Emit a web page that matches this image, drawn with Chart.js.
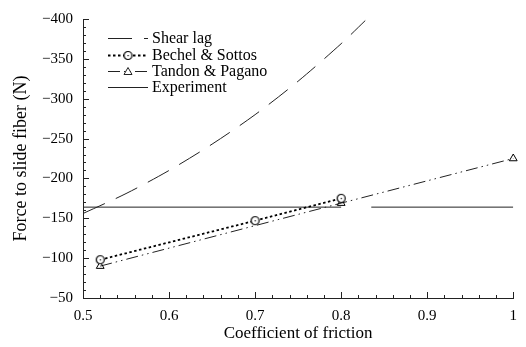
<!DOCTYPE html>
<html>
<head>
<meta charset="utf-8">
<script src="https://cdn.jsdelivr.net/npm/chart.js@4/dist/chart.umd.min.js"></script>
<style>
    html, body { margin: 0; padding: 0; background: #fff; }
    #wrap { width: 526px; height: 347px; }
</style>
</head>
<body>
<div id="wrap"><canvas id="frictionChart" width="526" height="347"></canvas></div>
<script>
// Force to slide fiber vs. coefficient of friction
const shearLagX = [0.5, 0.55, 0.6, 0.65, 0.7, 0.75, 0.8, 0.828];
const shearLagY = [-156, -181, -210, -243, -280, -322, -369, -398];

const bechelX = [0.52, 0.7, 0.8];
const bechelY = [-98, -147, -175];

const tandonX = [0.52, 0.8, 1.0];
const tandonY = [-90, -169, -225];

// experiment line is broken where the Tandon curve crosses it
const experimentX = [0.5, 0.8, 0.818, 0.835, 1.0];
const experimentY = [-164, -164, null, -164, -164];

const xTicks = [0.5, 0.6, 0.7, 0.8, 0.9, 1.0];
const yTicks = [-400, -350, -300, -250, -200, -150, -100, -50];

const toPoints = (xs, ys) => xs.map((x, i) => ({ x: x, y: ys[i] }));

const serif = 'Liberation Serif';
const ink = '#222';

// open circle with a centre dot, used as the Bechel & Sottos marker
function dotCircle() {
    const c = document.createElement('canvas');
    c.width = 11;
    c.height = 11;
    const g = c.getContext('2d');
    g.fillStyle = '#fff';
    g.strokeStyle = '#000';
    g.lineWidth = 1.2;
    g.beginPath();
    g.arc(5.5, 5.5, 4, 0, Math.PI * 2);
    g.fill();
    g.stroke();
    g.fillStyle = '#000';
    g.fillRect(5, 5, 1.2, 1.2);
    return c;
}
const circleMarker = dotCircle();

// inward tick marks, major and minor, on the left and bottom axes
const innerTicks = {
    id: 'innerTicks',
    afterDraw(chart) {
        const ctx = chart.ctx;
        const xs = chart.scales.x;
        const ys = chart.scales.y;
        const area = chart.chartArea;
        ctx.save();
        ctx.strokeStyle = ink;
        ctx.lineWidth = 1;
        ctx.beginPath();
        for (let i = 0; i <= 25; i++) {
            const v = 0.5 + i * 0.02;
            const px = Math.round(xs.getPixelForValue(v)) + 0.5;
            const len = i % 5 === 0 ? 6 : 3;
            ctx.moveTo(px, area.bottom);
            ctx.lineTo(px, area.bottom - len);
        }
        for (let i = 0; i <= 35; i++) {
            const v = -50 - i * 10;
            const py = Math.round(ys.getPixelForValue(v)) + 0.5;
            const len = i % 5 === 0 ? 6 : 3;
            ctx.moveTo(area.left, py);
            ctx.lineTo(area.left + len, py);
        }
        ctx.stroke();
        ctx.restore();
    }
};

// legend: line sample with marker, then label
const lineLegend = {
    id: 'lineLegend',
    afterDraw(chart) {
        const ctx = chart.ctx;
        const x0 = 108, x1 = 148, tx = 152;
        const rows = [38, 55, 71, 87];
        ctx.save();
        ctx.font = '16px "' + serif + '"';
        ctx.textBaseline = 'middle';
        chart.data.datasets.forEach((ds, i) => {
            const y = rows[i] + 0.5;
            ctx.strokeStyle = ds.borderColor;
            ctx.lineWidth = ds.borderWidth;
            ctx.setLineDash(ds.borderDash || []);
            ctx.beginPath();
            ctx.moveTo(x0, y);
            ctx.lineTo(x1, y);
            ctx.stroke();
            ctx.setLineDash([]);
            ctx.lineWidth = 1;
            const mx = Math.round((x0 + x1) / 2);
            if (ds.pointStyle instanceof HTMLCanvasElement) {
                ctx.drawImage(ds.pointStyle, mx - 5.5, y - 5.5);
            } else if (ds.pointStyle === 'triangle') {
                ctx.fillStyle = '#fff';
                ctx.beginPath();
                ctx.moveTo(mx, y - 4);
                ctx.lineTo(mx + 4, y + 3);
                ctx.lineTo(mx - 4, y + 3);
                ctx.closePath();
                ctx.fill();
                ctx.stroke();
            }
            ctx.fillStyle = '#000';
            ctx.fillText(ds.label, tx, y);
        });
        ctx.restore();
    }
};

const ctx = document.getElementById('frictionChart').getContext('2d');

new Chart(ctx, {
    type: 'line',
    data: {
        datasets: [
            {
                label: 'Shear lag',
                data: toPoints(shearLagX, shearLagY),
                borderColor: ink,
                borderWidth: 1,
                borderDash: [24, 12],
                pointRadius: 0,
                tension: 0.3
            },
            {
                label: 'Bechel & Sottos',
                data: toPoints(bechelX, bechelY),
                borderColor: '#000',
                borderWidth: 1.8,
                borderDash: [2.5, 2.5],
                pointStyle: circleMarker,
                pointRadius: 5
            },
            {
                label: 'Tandon & Pagano',
                data: toPoints(tandonX, tandonY),
                borderColor: ink,
                borderWidth: 1,
                borderDash: [12, 4, 1.5, 4, 1.5, 4],
                pointStyle: 'triangle',
                pointRadius: 4.5,
                pointBorderWidth: 1,
                pointBackgroundColor: 'rgba(255,255,255,0)',
                pointBorderColor: '#000',
                clip: false
            },
            {
                label: 'Experiment',
                data: toPoints(experimentX, experimentY),
                borderColor: ink,
                borderWidth: 1,
                pointRadius: 0,
                spanGaps: false
            }
        ]
    },
    options: {
        responsive: false,
        animation: false,
        layout: { padding: { top: 18, right: 7 } },
        plugins: {
            legend: { display: false },
            tooltip: { enabled: false }
        },
        scales: {
            x: {
                type: 'linear',
                min: 0.5,
                max: 1,
                afterFit(scale) { scale.height = 49; },
                afterBuildTicks(scale) { scale.ticks = xTicks.map(v => ({ value: v })); },
                grid: { drawOnChartArea: false, drawTicks: false },
                border: { color: ink, width: 1 },
                ticks: {
                    padding: 9,
                    color: '#000',
                    font: { family: serif, size: 15 },
                    callback: v => (v === 1 ? '1' : v.toFixed(1))
                },
                title: {
                    display: true,
                    text: 'Coefficient of friction',
                    color: '#000',
                    font: { family: serif, size: 17 },
                    padding: { top: 0, bottom: 3 }
                }
            },
            y: {
                type: 'linear',
                reverse: true,
                min: -400,
                max: -50,
                afterFit(scale) { scale.width = 83; },
                afterBuildTicks(scale) { scale.ticks = yTicks.map(v => ({ value: v })); },
                grid: { drawOnChartArea: false, drawTicks: false },
                border: { color: ink, width: 1 },
                ticks: {
                    padding: 10,
                    color: '#000',
                    font: { family: serif, size: 15 },
                    callback: v => '\u2212' + Math.abs(v)
                },
                title: {
                    display: true,
                    text: 'Force to slide fiber (N)',
                    color: '#000',
                    font: { family: serif, size: 18 },
                    padding: { top: 10, bottom: 0 }
                }
            }
        }
    },
    plugins: [innerTicks, lineLegend]
});
</script>
</body>
</html>
